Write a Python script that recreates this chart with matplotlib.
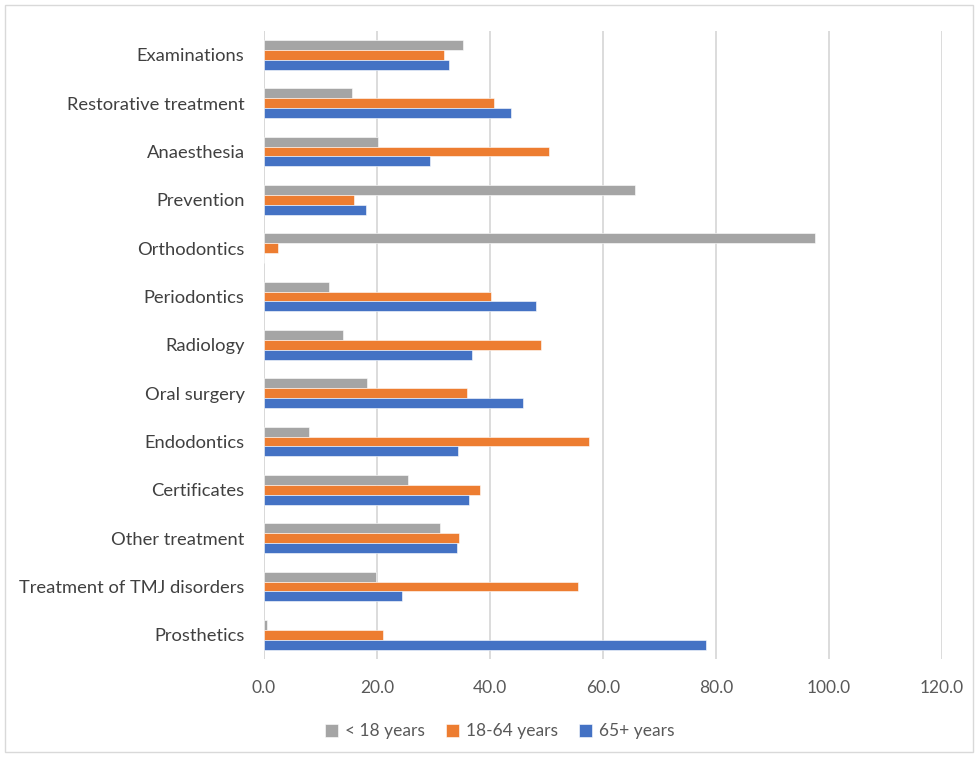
import numpy as np
import matplotlib
matplotlib.use("Agg")
import matplotlib.pyplot as plt
from matplotlib.patches import Rectangle

categories = ["Examinations", "Restorative treatment", "Anaesthesia", "Prevention",
              "Orthodontics", "Periodontics", "Radiology", "Oral surgery",
              "Endodontics", "Certificates", "Other treatment",
              "Treatment of TMJ disorders", "Prosthetics"]
under_18 = [35.3, 15.5, 20.2, 65.7, 97.6, 11.5, 13.9, 18.2, 8.0, 25.4, 31.2, 19.9, 0.5]
age_18_64 = [31.8, 40.7, 50.4, 16.0, 2.4, 40.2, 49.0, 35.9, 57.5, 38.2, 34.6, 55.6, 21.1]
age_65_plus = [32.8, 43.7, 29.4, 18.1, 0.0, 48.1, 36.9, 45.8, 34.4, 36.3, 34.1, 24.4, 78.3]
series_names = ["< 18 years", "18-64 years", "65+ years"]
colors = ["#A5A5A5", "#ED7D31", "#4472C4"]

plt.rcParams['font.family'] = ['Lato', 'DejaVu Sans']

fig = plt.figure(figsize=(9.78, 7.57), dpi=100)
ax = fig.add_axes([0.27, 0.1295, 0.693, 0.830])

y = np.arange(len(categories))
h = 0.205
for i, (vals, name, c) in enumerate(zip([under_18, age_18_64, age_65_plus], series_names, colors)):
    ax.barh(y + (i - 1) * h, vals, height=h, color=c, label=name,
            edgecolor='white', linewidth=0.4, zorder=3)

ax.set_ylim(len(categories) - 0.5, -0.5)
ax.set_xlim(0, 120)
ax.set_xticks(np.arange(0, 121, 20))
ax.set_xticklabels([f"{v:.1f}" for v in np.arange(0, 121, 20)])
ax.set_yticks(y)
ax.set_yticklabels(categories)
ax.grid(axis='x', color='#D9D9D9', linewidth=1.3, zorder=0)
for s in ax.spines.values():
    s.set_visible(False)
ax.axvline(0, color='#D9D9D9', linewidth=1.3, zorder=1)
ax.tick_params(axis='x', length=0, pad=15, labelsize=12.5, labelcolor='#595959')
ax.tick_params(axis='y', length=0, pad=14, labelsize=13.2, labelcolor='#404040')

fig.legend(loc='center', bbox_to_anchor=(0.511, 0.034), ncol=3, frameon=False,
           fontsize=12.5, handlelength=0.75, handleheight=0.75, handletextpad=0.4,
           columnspacing=1.2, labelcolor='#595959')

fig.patches.append(Rectangle((0.005, 0.006), 0.99, 0.988, transform=fig.transFigure,
                             fill=False, edgecolor='#D9D9D9', linewidth=1))

fig.savefig("out.png", dpi=100, facecolor='white')
